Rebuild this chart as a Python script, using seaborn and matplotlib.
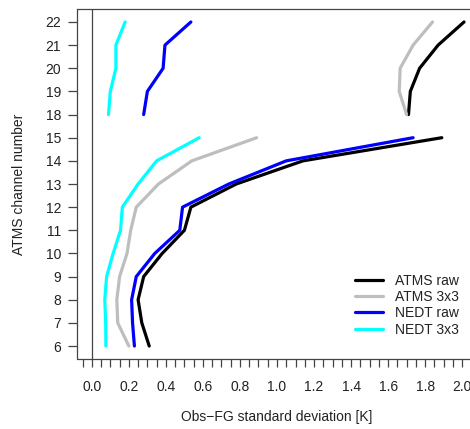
import numpy as np
import pandas as pd
import matplotlib
matplotlib.use("Agg")
import matplotlib.pyplot as plt
from matplotlib.lines import Line2D
from matplotlib.ticker import MultipleLocator
import seaborn as sns

# ATMS channels shown (16 and 17 are not plotted)
channels = [6, 7, 8, 9, 10, 11, 12, 13, 14, 15, 18, 19, 20, 21, 22]

# Obs-FG standard deviation [K] per channel
atms_raw = [0.31, 0.27, 0.25, 0.28, 0.38, 0.50, 0.535, 0.78, 1.14, 1.89,
            1.71, 1.72, 1.77, 1.87, 2.01]
atms_3x3 = [0.20, 0.14, 0.135, 0.15, 0.19, 0.21, 0.24, 0.36, 0.54, 0.89,
            1.70, 1.66, 1.665, 1.735, 1.84]
nedt_raw = [0.23, 0.22, 0.215, 0.24, 0.34, 0.475, 0.49, 0.74, 1.05, 1.735,
            0.28, 0.30, 0.385, 0.395, 0.535]
nedt_3x3 = [0.076, 0.075, 0.07, 0.08, 0.115, 0.155, 0.165, 0.25, 0.35, 0.58,
            0.09, 0.10, 0.13, 0.13, 0.18]

series_names = ["ATMS raw", "ATMS 3x3", "NEDT raw", "NEDT 3x3"]
series_values = [atms_raw, atms_3x3, nedt_raw, nedt_3x3]
series_colors = ["#000000", "#BEBEBE", "#0000FF", "#00FFFF"]

rows = []
for name, vals in zip(series_names, series_values):
    for i, (ch, v) in enumerate(zip(channels, vals)):
        rows.append({"series": name, "pos": i, "value": v,
                     "segment": f"{name}-{'lo' if ch <= 15 else 'hi'}"})
df = pd.DataFrame(rows)

sns.set_style("ticks")
plt.rcParams["font.family"] = ["Liberation Sans", "DejaVu Sans"]

fig = plt.figure(figsize=(4.70, 4.29), dpi=100)
ax = fig.add_axes([77 / 470, 70 / 429, 400 / 470, 350 / 429])

sns.lineplot(data=df, x="value", y="pos", hue="series", units="segment",
             estimator=None, sort=False, orient="y",
             palette=dict(zip(series_names, series_colors)),
             hue_order=series_names, linewidth=2.3, legend=False, ax=ax)

ax.axvline(0, color="#444444", linewidth=0.9, zorder=0)

ax.set_xlim(-0.08, 2.08)
ax.set_ylim(-0.56, len(channels) - 1 + 0.56)
ax.set_yticks(range(len(channels)))
ax.set_yticklabels([str(c) for c in channels])
ax.xaxis.set_major_locator(MultipleLocator(0.2))
ax.xaxis.set_minor_locator(MultipleLocator(0.05))
ax.xaxis.set_major_formatter(matplotlib.ticker.FormatStrFormatter("%.1f"))

for s in ax.spines.values():
    s.set_visible(True)
    s.set_color("#444444")
    s.set_linewidth(0.9)
ax.spines["bottom"].set_visible(False)
ax.spines["left"].set_visible(False)
ax.plot([0, 0], [0, 1], transform=ax.transAxes, color="#444444", lw=0.9, clip_on=False)
ax.plot([0, 1], [0, 0], transform=ax.transAxes, color="#444444", lw=0.9, clip_on=False)

ax.tick_params(axis="both", which="both", direction="out", color="#444444",
               width=0.9, labelsize=10, labelcolor="#222222")
ax.tick_params(axis="x", which="both", length=6, pad=9)
ax.tick_params(axis="y", length=6.5, pad=5)

ax.set_xlabel("Obs\u2212FG standard deviation [K]", fontsize=10, color="#222222", labelpad=12)
ax.set_ylabel("ATMS channel number", fontsize=10, color="#222222", labelpad=14)

handles = [Line2D([0], [0], color=c, lw=2.3) for c in series_colors]
ax.legend(handles, series_names, loc="lower right", bbox_to_anchor=(0.985, 0.028),
          frameon=False, fontsize=10, handlelength=2.0, handletextpad=0.85,
          labelspacing=0.17, labelcolor="#222222")

fig.savefig("out.png", dpi=100)
